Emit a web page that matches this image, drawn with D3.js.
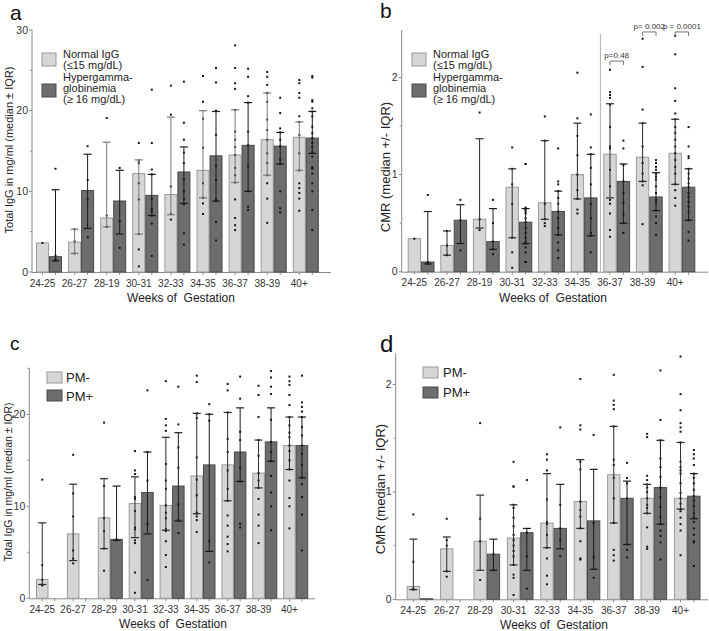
<!DOCTYPE html>
<html><head><meta charset="utf-8">
<script src="https://cdn.jsdelivr.net/npm/d3@7"></script>
<style>body{margin:0;background:#fff}svg{display:block}text{font-family:"Liberation Sans",Arial,sans-serif}</style>
</head><body><svg id="c" width="709" height="631"></svg>
<script>
// ---------- DATA ----------
const weeksAB = ["24-25","26-27","28-19","30-31","32-33","34-35","36-37","38-39","40+"];
const weeksCD = ["24-25","26-27","28-29","30-31","32-33","34-35","36-37","38-39","40+"];
const yTicksIgG = [0,10,20,30];
const yTicksCMR = [0,1,2];

// Panel a: Total IgG, Normal IgG vs Hypergammaglobinemia
const aNormal = [3.6,3.7,6.7,12.2,9.6,12.6,14.5,16.4,16.7];
const aHyper  = [1.9,10.1,8.8,9.5,12.4,14.4,15.7,15.6,16.6];
const aNormalIQR = [null,[2.3,5.3],[5.6,16.1],[4.7,13.9],[7.1,19.2],[9.2,20.0],[11.1,20.1],[12.0,22.2],[12.6,18.6]];
const aHyperIQR  = [[1.4,10.2],[5.4,14.6],[4.7,12.6],[7.0,12.1],[8.5,15.5],[8.8,19.9],[10.0,21.0],[13.4,17.3],[14.7,19.9]];
const aNormalPts = [
 [3.6],[2.3,3.8,5.3],[5.6,7.0,19.1],[0.7,2.8,4.7,9.0,11.0,13.5,13.8,16.0],
 [6.5,7.2,10.6,19.5,23.1],[7.2,8.5,9.2,11.0,15.4,19.0,21.1,24.3],
 [5.2,5.8,6.7,9.0,11.1,12.0,12.9,14.5,15.5,16.4,17.4,20.1,22.7,23.4,25.3,28.1],
 [6.1,9.1,11.0,12.0,13.5,14.7,16.4,17.6,18.9,21.1,22.2,23.2,24.2,24.8],
 [7.6,9.1,9.8,10.4,11.0,12.6,14.7,17.0,18.6,19.3,21.6,22.2,23.4,23.8]];
const aHyperPts = [
 [1.4,1.6,2.0,12.8],[4.3,9.0,11.4,15.6],[3.0,6.3,12.9],[2.0,6.0,7.0,7.5,7.8,9.0,12.1,12.7,16.0,22.6],
 [3.4,4.8,8.4,9.0,10.0,11.5,13.5,14.8,16.4,18.5,23.6],[3.9,6.2,8.8,9.0,11.4,13.2,17.0,20.0,23.5,25.3],
 [7.7,8.1,10.0,13.1,15.7,17.4,21.0,21.8,24.2,25.2],
 [7.4,7.9,10.0,13.4,13.9,15.6,16.4,17.3,17.8,19.7,21.6],
 [5.2,7.7,10.0,11.0,12.2,12.8,13.0,14.3,14.8,15.5,16.0,16.6,17.2,18.0,19.3,19.9,20.3,21.1,21.3,24.1,24.3]];

// Panel b: CMR, Normal IgG vs Hypergammaglobinemia
const bNormal = [0.34,0.27,0.54,0.87,0.71,1.00,1.21,1.18,1.22];
const bHyper  = [0.10,0.53,0.31,0.51,0.62,0.76,0.93,0.77,0.87];
const bNormalIQR = [null,[0.17,0.42],[0.45,1.37],[0.35,1.06],[0.54,1.35],[0.75,1.53],[0.76,1.73],[0.93,1.53],[0.90,1.57]];
const bHyperIQR  = [[0.08,0.62],[0.29,0.69],[0.23,0.65],[0.29,0.65],[0.38,0.83],[0.37,1.21],[0.50,1.11],[0.63,1.02],[0.53,1.06]];
const bNormalPts = [
 [0.34],[0.17,0.27,0.42],[0.43,0.54,1.64],[0.04,0.20,0.35,0.70,0.90,1.06,1.28],
 [0.47,0.50,0.54,0.70,1.35,1.60],[0.60,0.64,0.75,0.84,1.00,1.20,1.40,1.58,2.05],
 [0.36,0.43,0.60,0.70,0.74,0.88,1.05,1.27,1.29,1.49,1.72,1.79,1.82,1.85,2.08],
 [0.49,0.89,0.93,1.01,1.12,1.29,1.53,1.67,2.11,2.40],
 [0.68,0.76,0.84,0.90,1.01,1.08,1.15,1.22,1.29,1.36,1.43,1.49,1.57,1.63,1.76,1.89,2.24,2.43]];
const bHyperPts = [
 [0.08,0.10,0.79],[0.22,0.53,0.74],[0.18,0.23,0.31,0.50,0.74],
 [0.10,0.10,0.20,0.25,0.29,0.31,0.35,0.40,0.45,0.51,0.55,0.60,0.62,0.64,0.65,0.66,1.11,1.11],
 [0.14,0.22,0.30,0.38,0.45,0.55,0.62,0.70,0.76,0.83,0.90,0.93,1.27],
 [0.20,0.37,0.40,0.55,0.70,0.90,1.07,1.21,1.28,1.62],
 [0.40,0.50,0.59,0.71,0.81,0.93,1.10,1.27,1.35],
 [0.38,0.50,0.57,0.63,0.71,0.74,0.81,0.88,0.95,0.98,1.01,1.05,1.08,1.12,1.15],
 [0.32,0.41,0.53,0.62,0.67,0.72,0.77,0.81,0.87,0.91,0.96,1.01,1.06,1.17,1.19,1.29,1.49]];

// Panel c: Total IgG, PM- vs PM+
const cNeg = [2.05,7.0,8.75,10.3,10.1,13.3,14.5,13.6,16.6];
const cPos = [null,null,6.4,11.5,12.2,14.5,15.9,17.0,16.6];
const cNegIQR = [[1.5,8.2],[4.1,12.4],[5.4,13.0],[6.6,13.2],[7.4,17.5],[9.2,20.1],[10.6,20.2],[12.0,17.2],[14.0,19.7]];
const cPosIQR = [null,null,[6.3,12.2],[7.0,15.9],[8.4,18.0],[5.1,20.0],[12.7,20.7],[14.9,20.7],[13.1,19.7]];
const cNegPts = [
 [1.4,1.5,2.0,3.6,12.9],[3.8,4.3,5.2,8.9,11.4,15.6],[3.0,5.4,7.3,8.7,12.2,19.1],
 [0.6,2.8,6.0,6.3,7.5,7.7,9.5,10.8,11.0,13.5,13.9,16.0],
 [3.4,4.7,6.2,7.3,7.5,8.7,9.3,10.1,11.9,12.8,14.6,18.2,18.8,19.5,23.6],
 [7.2,8.5,8.9,9.2,9.3,11.2,12.9,15.3,19.6,20.1,23.5,24.2],
 [5.1,5.9,6.7,7.9,9.0,10.6,11.9,13.9,15.9,17.3,20.2,22.6,23.3],
 [6.0,7.9,9.1,10.8,12.0,12.8,13.6,15.5,17.2,19.7,22.1,23.1],
 [7.6,10.0,10.9,12.8,14.0,15.0,16.0,16.6,17.5,18.0,18.8,19.7,21.0,22.1,23.2,23.6,24.1]];
const cPosPts = [
 [],[],[6.3,6.4],[2.0,8.1,12.8,15.9,22.6],[7.1,8.5,10.2,14.2,16.4,18.9,23.0],
 [3.9,6.2,19.3,20.0,21.1],[7.7,8.1,12.7,14.2,17.2,18.1,21.7,24.1],
 [7.4,10.0,11.5,13.3,14.9,15.9,17.0,19.4,22.2,23.0,24.0,24.7],
 [5.2,9.1,11.0,12.4,13.1,14.5,15.7,16.6,17.7,18.6,19.7,20.3,20.8,21.3,24.2]];

// Panel d: CMR, PM- vs PM+
const dNeg = [0.12,0.47,0.54,0.57,0.71,0.91,1.16,0.94,0.94];
const dPos = [0.005,null,0.42,0.62,0.66,0.73,0.94,1.04,0.96];
const dNegIQR = [[0.09,0.56],[0.26,0.58],[0.27,0.97],[0.32,0.88],[0.48,1.17],[0.66,1.30],[0.71,1.61],[0.80,1.07],[0.84,1.46]];
const dPosIQR = [null,null,[0.27,0.56],[0.27,0.66],[0.47,1.07],[0.28,1.21],[0.51,1.10],[0.70,1.48],[0.75,1.17]];
const dNegPts = [
 [0.09,0.10,0.35,0.79],[0.21,0.26,0.50,0.55,0.75],[0.18,0.54,0.75,1.64],
 [0.04,0.20,0.23,0.32,0.40,0.45,0.50,0.55,0.60,0.68,0.76,0.85,0.88,1.05,1.05,1.28],
 [0.14,0.22,0.38,0.48,0.60,0.70,0.72,0.93,1.20,1.30,1.35],
 [0.37,0.38,0.54,0.66,0.77,0.83,0.91,1.21,1.28,1.58,1.62,2.05],
 [0.36,0.41,0.46,0.71,0.94,1.13,1.25,1.30,1.61,1.77,1.81,1.85,2.09],
 [0.47,0.49,0.67,0.80,0.85,0.88,0.94,1.00,1.04,1.07,1.11,1.15,1.51,1.54],
 [0.41,0.64,0.70,0.76,0.82,0.84,0.89,0.94,0.99,1.08,1.17,1.20,1.23,1.28,1.46,1.56,1.60,1.64,1.76,1.91,2.26]];
const dPosPts = [
 [],[],[0.27,0.42],[0.10,0.40,0.62,1.11],[0.40,0.55,0.66,0.88,1.60],[0.20,0.39,0.71,1.53],
 [0.39,0.46,0.51,0.94,1.08,1.13,1.27],
 [0.37,0.53,0.59,0.64,0.70,0.77,0.86,0.95,1.04,1.14,1.23,1.31,1.48,1.67,2.13],
 [0.31,0.53,0.54,0.60,0.66,0.72,0.76,0.80,0.87,0.92,0.96,1.02,1.08,1.13,1.17,1.25,1.31,1.35,1.39]];

const legendAB = [["Normal IgG","(≤15 mg/dL)"],["Hypergamma-","globinemia","(≥ 16 mg/dL)"]];
const legendCD = [["PM-"],["PM+"]];
const pValues = [{cat:"36-37", text:"p=0.48", level:2.17},{cat:"38-39", text:"p= 0.002", level:2.47},{cat:"40+", text:"p = 0.0001", level:2.47}];

// ---------- DRAWING ----------
const svg = d3.select("#c");
const LIGHT = "#d6d6d6", DARK = "#6d6d6d";
const W = +svg.attr("width");

function panel(cfg){
  const g = svg.append("g");
  const y = d3.scaleLinear().domain([0, cfg.yMax]).range([cfg.y0, cfg.yTop]);
  const n = cfg.cats.length, gap = cfg.pitch - 2*cfg.barW;
  const x = d3.scaleBand().domain(cfg.cats)
     .range([cfg.barStart, cfg.barStart + n*cfg.pitch - gap])
     .paddingInner(gap/cfg.pitch).paddingOuter(0);
  const sub = d3.scaleBand().domain(["L","D"]).range([0, x.bandwidth()]);
  const series = [
    {key:"L", vals:cfg.light, iqr:cfg.lightIQR, pts:cfg.lightPts, fill:LIGHT, stroke:"#9a9a9a", err:cfg.lightErrColor},
    {key:"D", vals:cfg.dark, iqr:cfg.darkIQR, pts:cfg.darkPts, fill:DARK, stroke:"#4a4a4a", err:"#1a1a1a"}
  ];
  // axes
  g.append("line").attr("x1",cfg.axisX).attr("x2",cfg.axisX).attr("y1",y.range()[1]).attr("y2",cfg.y0+0.5)
    .attr("stroke","#8a8a8a");
  g.append("line").attr("x1",cfg.axisX).attr("x2",cfg.xEnd).attr("y1",cfg.y0+0.5).attr("y2",cfg.y0+0.5)
    .attr("stroke","#8a8a8a");
  cfg.yTicks.forEach(t=>{
    g.append("line").attr("x1",cfg.axisX-3).attr("x2",cfg.axisX).attr("y1",y(t)).attr("y2",y(t)).attr("stroke","#8a8a8a");
    g.append("text").attr("x",cfg.axisX-4).attr("y",y(t)+3.5).attr("text-anchor","end")
      .attr("font-size",10.5).attr("fill","#333").text(t);
  });
  const step = cfg.yTicks[1]-cfg.yTicks[0];
  for(let t=step/2; t<=cfg.yMax; t+=step){
    if(cfg.yTicks.indexOf(t)>=0) continue;
    g.append("line").attr("x1",cfg.axisX-2).attr("x2",cfg.axisX).attr("y1",y(t)).attr("y2",y(t)).attr("stroke","#8a8a8a");
  }
  cfg.cats.forEach(c=>{
    ["L","D"].forEach(k=>{
      const cx = x(c)+sub(k)+sub.bandwidth()/2;
      g.append("line").attr("x1",cx).attr("x2",cx).attr("y1",cfg.y0).attr("y2",cfg.y0+3).attr("stroke","#8a8a8a");
    });
    g.append("text").attr("x",x(c)+sub("L")+sub.bandwidth()/2).attr("y",cfg.y0+14.5)
      .attr("text-anchor","middle").attr("font-size",10).attr("fill","#333").text(c);
  });
  // bars
  series.forEach(s=>{
    cfg.cats.forEach((c,i)=>{
      const v = s.vals[i]; if(v==null) return;
      g.append("rect").attr("x",x(c)+sub(s.key)+0.5).attr("y",y(v)).attr("width",sub.bandwidth()-1)
        .attr("height",Math.max(0.5,y(0)-y(v))).attr("fill",s.fill).attr("stroke",s.stroke).attr("stroke-width",1);
    });
  });
  // points
  series.forEach(s=>{
    cfg.cats.forEach((c,i)=>{
      const cx = x(c)+sub(s.key)+sub.bandwidth()/2;
      s.pts[i].forEach(p=>{
        g.append("rect").attr("x",cx-1).attr("y",y(p)-1).attr("width",2).attr("height",2).attr("fill","#151515");
      });
    });
  });
  // error bars
  series.forEach(s=>{
    cfg.cats.forEach((c,i)=>{
      const e = s.iqr[i]; if(!e) return;
      const cx = x(c)+sub(s.key)+sub.bandwidth()/2;
      g.append("line").attr("x1",cx).attr("x2",cx).attr("y1",y(e[0])).attr("y2",y(e[1])).attr("stroke",s.err).attr("stroke-width",1);
      e.forEach(v=>g.append("line").attr("x1",cx-4).attr("x2",cx+4).attr("y1",y(v)).attr("y2",y(v)).attr("stroke",s.err).attr("stroke-width",1.2));
    });
  });
  // titles
  g.append("text").attr("x",cfg.titleX).attr("y",cfg.y0+30).attr("text-anchor","middle")
    .attr("font-size",12).attr("fill","#222").text("Weeks of\u00a0 Gestation");
  g.append("text").attr("transform",`translate(${cfg.yTitleX},${cfg.yTitleY}) rotate(-90)`).attr("text-anchor","middle")
    .attr("font-size",cfg.yTitleSize).attr("fill","#222").text(cfg.yTitle);
  g.append("text").attr("x",cfg.letterX).attr("y",cfg.letterY).attr("font-size",cfg.letterSize).attr("fill","#111").text(cfg.letter);
  // legend
  cfg.legend.forEach((lines,j)=>{
    const ly = cfg.legendY[j];
    g.append("rect").attr("x",cfg.legendX).attr("y",ly).attr("width",cfg.legendW).attr("height",cfg.legendH)
      .attr("fill",j===0?LIGHT:DARK).attr("stroke",j===0?"#9a9a9a":"#4a4a4a");
    lines.forEach((t,k)=>{
      g.append("text").attr("x",cfg.legendX+cfg.legendW+cfg.legendGap).attr("y",cfg.legendTextY[j]+k*cfg.legendLine)
        .attr("font-size",cfg.legendSize).attr("fill","#222").text(t);
    });
  });
  return {x, sub, y, g};
}

panel({cats:weeksAB, light:aNormal, dark:aHyper, lightIQR:aNormalIQR, darkIQR:aHyperIQR, lightPts:aNormalPts, darkPts:aHyperPts,
  lightErrColor:"#7a7a7a", yMax:30, yTicks:yTicksIgG, y0:272, yTop:30, axisX:32, xEnd:331, barStart:36, pitch:32.1, barW:13,
  titleX:181, yTitle:"Total IgG in mg/ml (median ± IQR)", yTitleX:13, yTitleY:150, yTitleSize:11,
  letter:"a", letterX:10, letterY:20, letterSize:21,
  legend:legendAB, legendX:42, legendY:[53,84], legendW:14, legendH:13, legendGap:7, legendTextY:[58,81], legendLine:11, legendSize:11});

const pb = panel({cats:weeksAB, light:bNormal, dark:bHyper, lightIQR:bNormalIQR, darkIQR:bHyperIQR, lightPts:bNormalPts, darkPts:bHyperPts,
  lightErrColor:"#2a2a2a", yMax:2.49, yTicks:yTicksCMR, y0:271.7, yTop:30, axisX:401.7, xEnd:708, barStart:407.7, pitch:32.6, barW:13.4,
  titleX:553, yTitle:"CMR (median +/- IQR)", yTitleX:390, yTitleY:167, yTitleSize:13,
  letter:"b", letterX:380, letterY:18, letterSize:21,
  legend:legendAB, legendX:412, legendY:[53,84], legendW:14, legendH:13, legendGap:7, legendTextY:[58,81], legendLine:11, legendSize:11});

// p-value annotations & separator in panel b
(function(){
  const {x, sub, y, g} = pb;
  const firstIdx = weeksAB.indexOf(pValues[0].cat);
  const sepX = x(weeksAB[firstIdx]) - (x.step()-x.bandwidth())/2;
  g.append("line").attr("x1",sepX).attr("x2",sepX).attr("y1",y(2.45)).attr("y2",y(0)).attr("stroke","#b0b0b0");
  pValues.forEach(p=>{
    const x1 = x(p.cat)+sub("L")+sub.bandwidth()/2, x2 = x(p.cat)+sub("D")+sub.bandwidth()/2;
    const yy = y(p.level);
    g.append("path").attr("d",`M${x1},${yy+4}V${yy}H${x2}V${yy+4}`).attr("fill","none").attr("stroke","#777");
    const t = g.append("text").attr("x",(x1+x2)/2).attr("y",yy-3).attr("font-size",8)
      .attr("text-anchor","middle").attr("fill","#333").text(p.text);
    const bb = t.node().getBBox();
    if(bb.x+bb.width > W-2) t.attr("x",(x1+x2)/2 - (bb.x+bb.width-(W-2)));
  });
})();

panel({cats:weeksCD, light:cNeg, dark:cPos, lightIQR:cNegIQR, darkIQR:cPosIQR, lightPts:cNegPts, darkPts:cPosPts,
  lightErrColor:"#2a2a2a", yMax:25, yTicks:[0,10,20], y0:598.3, yTop:368.3, axisX:29.3, xEnd:315, barStart:36, pitch:30.9, barW:12.5,
  titleX:173, yTitle:"Total IgG in mg/ml (median \u00b1 IQR)", yTitleX:12, yTitleY:482, yTitleSize:10.5,
  letter:"c", letterX:10, letterY:350, letterSize:19,
  legend:legendCD, legendX:47, legendY:[372,390], legendW:15, legendH:11, legendGap:4, legendTextY:[382,401], legendLine:12, legendSize:13});

panel({cats:weeksCD, light:dNeg, dark:dPos, lightIQR:dNegIQR, darkIQR:dPosIQR, lightPts:dNegPts, darkPts:dPosPts,
  lightErrColor:"#2a2a2a", yMax:2.29, yTicks:yTicksCMR, y0:599.3, yTop:353.3, axisX:395.7, xEnd:708, barStart:406.7, pitch:33.4, barW:13.3,
  titleX:554, yTitle:"CMR (median +/- IQR)", yTitleX:385, yTitleY:489, yTitleSize:13,
  letter:"d", letterX:380, letterY:352, letterSize:24,
  legend:legendCD, legendX:423, legendY:[367,387], legendW:15, legendH:11, legendGap:5, legendTextY:[377,397], legendLine:12, legendSize:13});
</script></body></html>
